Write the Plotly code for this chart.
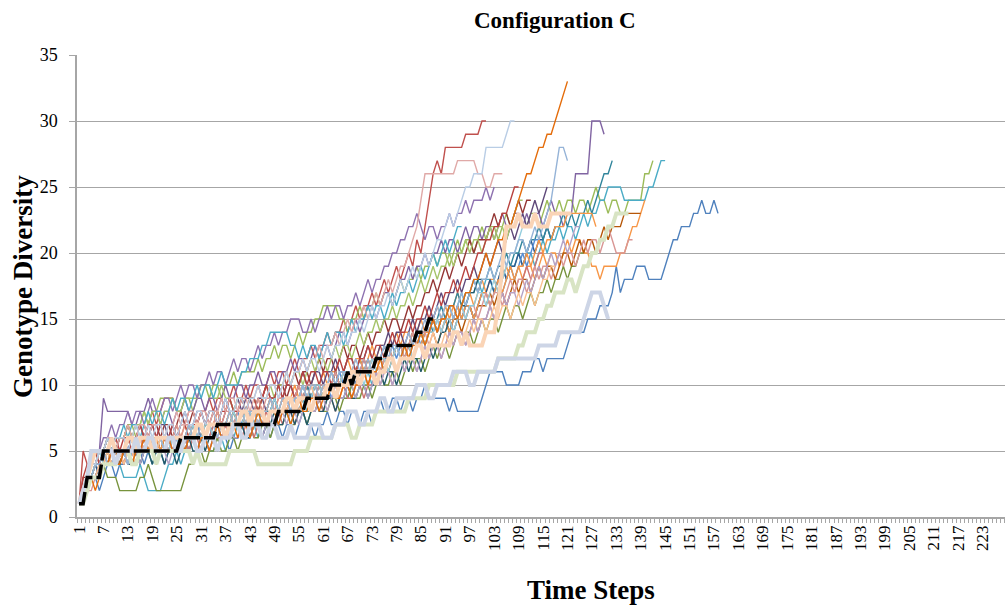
import plotly.graph_objects as go

# ---------------- data ----------------
x_tick_labels = [1, 7, 13, 19, 25, 31, 37, 43, 49, 55, 61, 67, 73, 79, 85, 91, 97, 103, 109,
                 115, 121, 127, 133, 139, 145, 151, 157, 163, 169, 175, 181, 187, 193, 199,
                 205, 211, 217, 223]
y_ticks = [0, 5, 10, 15, 20, 25, 30, 35]

run_blue = [1,2,2,3,3,2,3,4,4,3, 4,4,5,4,5,5,4,5,6,5, 5,4,5,5,6,6,5,6,6,5, 6,6,5,6,7,6,6,5,6,6,
            7,6,6,7,7,6,7,6,7,7, 6,7,7,6,7,8,7,7,6,7, 7,8,7,7,8,8,7,8,8,7, 8,8,7,8,9,8,8,9,9,8,
            9,9,8,9,9,10,9,9,9,9, 9,8,9,8,8,8,8,8,8,9, 10,11,11,11,11,10,10,10,10,11,
            11,11,12,12,11,12,12,12,12,12, 13,14,14,14,14,15,15,15,16,16,
            16,17,19,17,18,18,18,19,19,19, 18,18,18,18,19,20,21,21,22,22, 22,23,23,24,23,23,24,23]
run_red = [1,5,4,4,5,4,5,6,6,5, 6,6,7,6,7,7,6,7,8,7, 8,9,9,9,8,8,7,8,8,7, 8,8,9,8,9,9,8,9,10,9,
           9,10,9,10,10,9,10,11,10,11, 11,10,11,12,11,12,12,13,12,13, 13,14,13,14,14,15,14,15,16,15,
           16,16,17,16,17,18,17,18,19,18, 19,20,19,21,20,22,24,26,27,26, 28,28,28,28,28,29,29,29,29,30,30]
run_dkorange = [1,1,2,3,2,3,4,4,5,4, 4,5,5,4,5,5,6,5,5,4, 5,5,6,5,5,6,5,6,6,5, 6,6,5,6,7,6,6,7,7,6,
                7,7,6,7,8,7,7,8,8,7, 8,8,7,8,9,8,8,9,9,8, 9,9,10,9,9,10,10,9,10,10,
                11,10,11,11,12,11,12,12,11,12, 13,12,13,13,14,13,14,15,14,15, 15,16,16,15,16,17,17,18,18,19,
                20,19,20,21,21,22,22,23,24,25, 26,26,27,28,28,29,29,30,31,32,33]
run_purple = [1,2,3,3,4,5,9,8,8,8, 8,8,8,7,7,8,8,9,8,8, 7,8,8,7,8,8,9,8,8,9, 9,8,9,9,8,9,10,9,9,10,
              10,9,10,10,11,10,10,11,11,10, 11,11,12,11,12,12,11,12,13,12, 13,13,12,13,14,14,13,14,15,14,
              15,16,16,15,16,17,17,16,17,18, 18,19,18,19,19,20,19,20,20,21, 20,21,21,20,21,22,21,22,22,21,
              22,22,21,22,23,22,22,23,23,22, 23,22,23,23,22,23,24,23,23,22, 23,23,26,26,26,26,30,30,30,29]
run_ltblue = [1,2,3,4,4,5,5,6,5,6, 6,6,5,6,7,6,6,7,6,7, 7,6,7,7,6,7,8,7,7,8, 8,7,8,8,7,8,9,8,8,9,
              9,8,9,9,10,9,9,10,10,9, 10,11,10,11,11,12,11,12,12,11, 12,13,12,13,13,14,13,14,14,15,
              14,15,16,15,16,16,17,16,17,18, 17,18,19,18,19,20,19,20,21,21, 22,23,22,23,24,25,25,26,26,26,
              28,28,28,28,28,29,30,30]
run_aqua = [1,2,2,3,4,4,5,4,4,4, 4,3,3,3,3,4,3,2,2,2, 2,3,4,4,5,4,5,5,4,5, 5,6,5,5,6,6,5,6,6,7,
            6,6,7,7,6,7,7,8,7,7, 8,8,7,8,8,9,8,8,9,9, 8,9,10,9,10,10,9,10,11,10, 11,11,10,11,12,11,12,12,13,12,
            13,13,12,13,14,13,14,15,14,15, 15,16,15,16,17,16,17,17,18,17, 18,18,17,18,19,18,19,19,20,19,
            20,20,19,20,21,20,21,21,22,21, 22,22,21,22,23,22,23,23,24,24, 25,25,25,25,24,24,24,24,24,24,
            25,25,26,27,27]
run_green = [1,2,3,3,4,5,5,6,6,5, 6,6,7,7,6,7,8,7,8,8, 9,9,9,9,8,8,9,9,8,9, 10,10,9,10,10,9,10,10,11,10,
             11,11,11,11,12,11,12,12,13,12, 13,13,12,13,14,13,14,14,15,15, 16,16,16,16,15,15,14,15,15,16,
             15,16,16,17,16,17,17,16,17,18, 17,18,18,19,18,19,19,20,19,20, 20,19,20,21,20,21,21,20,21,22,
             21,22,22,21,22,23,22,22,23,22, 22,23,23,22,23,24,23,23,24,23, 24,24,23,24,24,23,24,25,24,24,
             23,24,24,23,23,24,24,24,24,26,26,27]
run_teal = [1,1,2,3,3,4,4,5,4,4, 5,5,4,5,5,4,5,5,4,5, 5,6,5,6,6,5,6,6,7,6, 6,7,7,6,7,7,6,7,8,7,
            7,8,7,8,8,7,8,8,9,8, 8,9,9,8,9,9,10,9,10,10, 9,10,10,11,10,11,11,10,11,12,
            11,11,12,12,11,12,13,12,13,13, 12,13,14,13,14,14,15,14,15,16, 15,16,16,17,16,17,17,18,17,18,
            18,19,18,19,19,20,19,20,20,21, 20,21,21,22,21,22,21,22,22,23, 22,23,22,23,23,24,23,24,25,26,26,27]
run_orange = [1,2,2,3,3,4,4,5,4,5, 5,4,5,5,6,5,5,6,5,6, 6,5,6,6,7,6,6,7,6,7, 7,6,7,7,8,7,7,8,7,8,
              8,7,8,8,9,8,8,9,8,9, 9,8,9,10,9,9,10,9,10,10, 11,10,11,11,10,11,12,11,12,12,
              11,12,13,12,13,13,12,13,14,13, 14,14,13,14,15,14,15,15,16,15, 16,15,16,17,16,17,17,16,17,18,
              17,18,18,17,18,19,18,18,19,18, 19,19,18,19,20,19,20,20,19,20, 21,20,21,21,20,20,19,19,18,19,
              19,19,19,20,20,21,22,22,23,24]
run_brown = [1,2,3,3,4,4,5,4,5,5, 4,5,5,4,5,6,5,5,6,6, 5,6,6,5,5,6,6,5,6,7, 6,7,7,6,7,7,6,7,8,7,
             7,8,8,7,8,8,7,8,9,8, 8,9,9,8,9,10,9,9,10,10, 9,10,10,11,10,10,11,11,10,11,
             11,12,11,11,12,12,11,12,13,12, 13,13,12,13,14,13,14,14,13,14, 15,14,15,15,14,15,16,15,16,16,
             16,17,16,17,17,16,17,18,17,18, 18,17,18,19,18,19,19,18,19,20, 20,19,20,21,20,21,21,20,21,22,
             21,22,22,22,23,23,23,23,23]
run_pink = [1,1,2,2,3,3,4,4,5,4, 5,5,4,5,5,6,5,6,6,5, 6,6,5,6,7,6,7,7,6,7, 7,6,7,7,8,7,8,8,7,8,
            8,7,8,8,9,8,9,9,8,9, 9,8,9,9,10,9,10,10,9,10, 10,9,10,11,10,11,11,10,11,11,
            12,11,12,12,11,12,13,12,13,13, 12,13,14,13,14,14,13,14,15,14, 15,15,14,15,16,15,16,16,15,16,
            17,16,17,17,16,17,18,17,18,18, 17,18,19,18,19,19,18,19,20,19, 20,20,19,20,21,20,21,21,20,21,
            22,21,20,20,20,21,21]
run_olive = [1,2,2,3,3,3,4,3,3,3, 2,2,2,2,2,3,3,4,3,2, 2,2,2,2,2,2,3,4,4,5, 5,4,5,5,6,5,5,6,6,5,
             6,6,7,6,6,7,7,6,7,7, 7,8,7,7,8,8,7,8,8,9, 8,8,9,9,8,9,9,10,9,9, 10,10,9,10,11,10,10,11,11,10,
             11,12,11,12,12,11,12,13,12,13, 13,12,13,14,13,14,14,13,14,15, 14,15,15,14,15,16,15,16,16,15,
             16,17,16,17,17,18,17,18,18,19, 18,19,19,20,20]
run_dkred = [1,3,3,4,4,5,5,6,5,6, 6,6,7,6,6,7,7,6,7,7, 6,7,7,6,7,8,7,7,8,7, 8,8,7,8,8,7,8,9,8,8,
             9,8,9,9,8,9,10,9,9,10, 10,9,10,11,10,11,11,10,11,12, 11,12,12,11,12,13,12,13,13,12,
             13,14,13,14,14,15,14,15,15,14, 15,16,15,16,16,17,17,18,17,18, 19,18,19,20,19,20,21,20,21,21,
             21,22,23,22,23,23,22,23,24,23,24,24]
run_dkblue = [1,2,2,3,4,3,4,4,5,5, 4,5,5,6,5,5,6,5,5,6, 5,5,6,6,5,6,6,7,6,6, 7,6,6,7,7,6,7,8,7,7,
              8,7,8,8,7,8,8,9,8,8, 9,8,9,9,8,9,10,9,9,10, 10,9,10,11,10,10,11,11,10,11,
              12,11,11,12,12,13,12,12,13,13, 12,13,14,13,13,14,14,15,14,15, 15,14,15,16,15,16,16,15,16,17,
              17,18,17,18,19,18,19,19,20,19, 20,21,20,21,21,22,21,22]
run_dkpurple = [1,2,3,4,4,5,5,6,5,5, 6,6,5,6,6,7,6,6,7,6, 7,7,6,7,6,7,8,7,7,8, 8,7,8,8,7,8,9,8,8,9,
                8,9,9,8,9,9,8,9,9,10, 9,10,10,9,10,11,10,10,11,11, 10,11,11,12,11,11,12,12,11,12,
                12,13,12,12,13,13,14,13,14,14, 13,14,15,14,15,15,16,15,16,17, 16,17,17,18,17,18,18,19,18,19,
                20,19,20,21,20,21,22,21,22,23, 22,23,24,23,24,25]
run_skyblue = [1,2,2,3,4,4,5,4,4,5, 5,5,4,5,6,5,5,6,5,6, 6,5,6,5,5,6,6,7,6,6, 7,6,7,7,6,7,7,8,7,7,
               8,7,8,8,7,8,8,9,8,8, 9,9,8,9,9,10,9,10,10,9, 10,10,11,10,11,11,10,11,12,11,
               11,12,11,12,12,13,12,13,13,12, 13,14,13,14,14,15,14,15,16,15, 16,16,15,16,17,16,17,18,17,18,
               18,19,18,19,20,19,20,20,21,21, 20,21,22,21,22,23,24,26,28,28,27]
run_ltaqua = [1,2,3,3,4,5,4,5,5,4, 5,5,4,5,6,5,5,6,5,5, 6,5,5,6,6,5,6,6,7,6, 6,7,7,6,7,7,6,7,8,7,
              7,8,8,7,8,8,7,8,9,8, 8,9,9,8,9,10,9,9,10,10, 9,10,11,10,10,11,11,10,11,11,
              10,11,12,11,12,12,11,12,13,12, 13,13,12,13,14,13,14,14,15,14, 15,15,14,15,16,15,16,16,17,17,
              16,17,18,17,18,19,20,20,21,22]
run_salmon = [1,2,3,4,4,5,5,6,6,5, 6,6,7,6,6,7,7,6,7,7, 7,6,7,7,8,7,7,8,8,7, 8,8,7,8,8,9,8,9,9,8,
              9,9,8,9,10,9,9,10,10,9, 10,11,10,11,11,12,11,12,12,13, 12,13,13,14,13,14,15,14,15,15,
              16,15,16,17,16,17,18,17,18,19, 19,20,21,22,24,26,26,26,26,26, 26,26,26,27,27,27,27,27,26,26,
              25,25,26,26,26]
run_ltorange = [1,1,2,3,3,4,4,5,4,5, 5,4,5,5,4,5,5,6,5,5, 6,5,6,6,5,6,6,7,6,6, 7,6,7,7,6,7,7,8,7,7,
                8,7,8,8,7,8,8,9,8,8, 9,8,9,9,8,9,9,10,9,9, 10,9,10,10,9,10,11,10,10,11,
                11,10,11,12,11,11,12,12,11,12, 13,12,12,13,13,12,13,14,13,13, 14,13,14,14,13,14,15,14,15,15,
                14,15,16,15,16,16,15,16,17,16, 17,17,16,17,18,18,19,19]
run_midblue = [1,2,3,3,4,4,5,5,4,5, 5,4,5,5,4,5,6,5,5,6, 6,5,6,5,5,6,6,5,6,7, 6,6,7,6,7,7,6,7,7,8,
               7,7,8,7,8,8,7,8,9,8, 8,9,8,9,9,10,9,9,10,9, 10,10,9,10,11,10,11,11,10,11,
               11,10,11,12,11,12,12,13,12,13, 13,12,13,14,13,14,14,15,14,15, 15,14,15,16,15,16,16,15,16,17,
               17,16,17,18,17,18,19,18,19,20,19,20,21,21]
run_dkteal = [1,2,2,3,3,4,4,4,5,4, 4,5,4,4,5,4,5,5,4,5, 5,4,5,5,4,5,5,6,5,5, 6,5,6,6,5,6,6,7,6,6,
              7,6,6,7,7,6,7,7,8,7, 7,8,8,7,8,8,7,8,9,8, 8,9,9,8,9,9,10,9,9,10,
              10,9,10,10,11,10,11,11,10,11, 12,11,12,12,11,12,13,12,13,14, 14,15,14,15,16,16,17,17,18,18]
run_aqua2 = [1,2,3,4,4,5,5,6,5,6, 6,7,6,7,7,6,7,8,7,8, 8,7,8,9,8,9,9,8,9,10, 9,10,10,9,10,11,10,10,10,10,
             11,11,12,12,12,13,13,14,14,14, 14,14,13,13,12,13,12,13,13,12, 13,14,13,14,14,13,14,15,14,15,
             15,16,15,16,16,15,16,17,16,17, 17,18,17,18,19,18,19,20,19,20, 21,20,21,22,22]
run_green2 = [1,2,3,3,4,5,5,6,5,6, 6,6,7,6,7,7,8,7,8,8, 7,8,8,9,8,8,9,9,9,9, 10,10,10,9,9,10,9,9,8,9,
              9,8,9,9,8,9,9,10,9,10, 10,11,10,11,11,10,11,12,11,12, 12,11,12,13,12,13,13,12,13,14,
              13,14,14,15,14,15,15,16,15,16, 16,17,16,17,18,17,18,19,18,19, 19,20,19,20,20,21,20,21,21,20,
              21,22,21,22,22,21,22,23,24,24]
run_purple2 = [1,2,3,4,4,5,6,6,7,6, 7,7,8,7,8,8,7,8,9,8, 8,9,9,8,9,10,9,10,10,9, 10,10,11,10,11,11,10,11,12,11,
               12,12,11,12,13,12,13,13,14,13, 14,14,15,15,15,14,14,15,14,15, 15,16,15,16,16,15,16,16,17,16,
               17,18,17,18,18,19,19,20,20,21, 21,22,22,23,22,21,22,22,21,22, 22,23,22,23,23,24,23,24,24,24,25,24,25]
run_rosy = [1,2,2,3,3,4,5,4,4,5, 5,4,5,5,4,5,6,5,5,6, 5,5,6,5,5,6,6,5,6,6, 5,6,6,7,6,6,7,6,7,7,
            6,7,7,6,7,7,8,7,7,8, 7,8,8,7,8,8,9,8,8,9, 8,9,9,8,9,10,9,9,10,10,
            9,10,10,11,10,11,11,10,11,12, 11,12,12,11,12,13,12,13,13,12, 13,14,13,14,14,13,14,15,14,15,
            15,16,15,16,17,16,17,17,18,18,19,18,19,20,20]
run_orange2 = [1,2,3,3,4,4,5,5,4,5, 5,5,6,5,5,6,6,5,6,6, 5,6,6,6,5,6,7,6,6,7, 7,6,7,7,8,7,7,8,7,7,
               8,7,8,8,7,8,8,9,8,8, 9,8,9,9,10,9,9,10,10,9, 10,10,11,10,10,11,11,10,11,12,
               11,11,12,12,11,12,13,12,13,13, 12,13,14,13,13,14,14,15,14,15, 15,14,15,16,15,16,16,15,16,17,
               17,16,17,18,17,18,19,18,19,19, 20,19,20,21,20,21,21,22,22,22, 23,23,23,23,23,23,23,22]
run_red2 = [1,3,4,4,5,4,5,5,5,6, 5,6,6,5,6,7,6,7,7,6, 7,6,6,7,6,7,7,6,7,7, 8,7,8,8,7,8,8,9,8,8,
            9,8,9,9,8,9,10,9,9,10, 9,10,10,9,10,11,10,11,11,10, 11,11,10,11,12,11,12,12,11,12,
            12,13,12,13,13,12,13,14,13,14, 14,15,14,15,15,16,15,16,17,16, 17,17,18,17,18,19,18,19,20,20,
            21,21,22,22,23,23,24,25,25]
run_lavender = [1,2,2,3,3,4,4,5,5,4, 5,5,4,5,5,4,5,6,5,5, 5,5,4,5,6,5,5,6,6,5, 6,6,5,6,7,6,6,7,6,6,
                7,7,6,7,7,6,7,8,7,7, 8,7,8,8,7,8,9,8,8,9, 9,8,9,10,9,9,10,10,9,10,
                10,9,10,11,10,11,11,10,11,12, 11,12,12,11,12,13,12,13,13,12, 13,14,13,14,14,13,14,15,14,15,
                15,16,15,16,17,16,17,17,16,17, 18,17,18,19,18,19,20,19,20,21,20,21,22,22]
# thick pale runs
run_palegreen = [1,1,2,3,3,3,4,4,4,4, 5,5,5,4,4,5,5,5,5,4, 5,5,5,5,5,5,5,5,4,5, 4,4,4,4,4,4,4,5,5,5,
                 5,5,5,5,4,4,4,4,4,4, 4,4,4,5,5,5,5,6,6,6, 6,6,6,7,7,7,7,6,6,7, 7,7,7,8,8,8,8,8,8,8,
                 8,9,9,9,9,9,10,10,10,10, 10,10,10,11,11,11,11,11,11,11, 11,11,11,12,12,12,12,12,13,13,
                 14,14,14,15,15,16,16,17,17,17, 18,18,17,18,19,19,20,20,21,21, 22,22,23,23,23,23]
run_palegray = [1,2,3,5,5,5,5,5,5,4, 5,5,5,5,6,5,5,6,6,5, 5,5,6,6,5,5,6,6,6,5, 5,6,6,6,5,6,6,6,7,7,
                6,6,7,7,7,6,6,7,7,6, 6,6,7,6,6,6,6,7,7,7, 6,6,6,7,7,7,8,8,8,7, 7,8,8,8,9,9,8,8,9,9,
                9,9,9,10,10,10,9,9,10,10, 10,10,11,11,11,11,10,10,11,11, 11,11,11,12,12,12,12,12,12,12,
                12,12,12,13,13,13,13,13,14,14, 14,14,14,14,15,16,17,17,17,16,15]
run_palepeach = [1,2,3,4,5,5,5,5,6,5, 5,5,6,6,5,6,6,6,5,6, 6,6,6,6,6,6,6,6,6,7, 7,6,7,7,7,7,6,7,7,7,
                 8,8,7,8,8,8,7,8,8,8, 8,9,9,8,9,9,9,8,9,9, 9,10,10,9,10,10,10,11,11,10, 11,11,11,10,11,11,12,12,11,12,
                 12,12,12,13,13,12,13,13,13,13, 13,13,14,14,13,14,13,13,13,13, 14,14,14,16,19,22,22,22,23,22,
                 22,22,23,22,22,22,23,23,23,23,23,23]
run_median = [1,1, 3,3,3,3] + [5]*19 + [6]*9 + [7]*15 + [8]*7 + [9]*6 + [10]*4 + [11, 10] + [11]*5 + \
             [12]*3 + [13]*7 + [14]*3 + [15]*2

thin_runs = [
    (run_blue, "#4F81BD"), (run_red, "#C0504D"), (run_green, "#9BBB59"), (run_purple, "#8064A2"),
    (run_aqua, "#4BACC6"), (run_orange, "#F79646"), (run_dkblue, "#2C5A8F"), (run_dkred, "#943634"),
    (run_olive, "#77933C"), (run_dkpurple, "#5F497A"), (run_teal, "#31859C"), (run_brown, "#B65708"),
    (run_midblue, "#558ED5"), (run_rosy, "#CD7371"), (run_green2, "#A6C46A"), (run_purple2, "#8E72B0"),
    (run_aqua2, "#4BACC6"), (run_orange2, "#F79646"), (run_dkteal, "#215968"), (run_red2, "#B8423F"),
    (run_pink, "#D99694"), (run_lavender, "#B3A2C7"), (run_ltaqua, "#93CDDD"), (run_ltorange, "#FAC090"),
    (run_salmon, "#E0A9A7"), (run_skyblue, "#95B3D7"), (run_ltblue, "#B9CDE5"), (run_dkorange, "#E46C0A"),
]
thick_runs = [
    (run_palepeach, "#FAD4B6"), (run_palegreen, "#D8E4C4"), (run_palegray, "#CDD5E6"),
]

# ---------------- figure ----------------
fig = go.Figure()
for vals, col in thin_runs:
    fig.add_trace(go.Scatter(x=list(range(1, len(vals) + 1)), y=vals, mode="lines",
                             line=dict(color=col, width=1.4), hoverinfo="skip"))
for vals, col in thick_runs:
    fig.add_trace(go.Scatter(x=list(range(1, len(vals) + 1)), y=vals, mode="lines",
                             line=dict(color=col, width=4), hoverinfo="skip"))
fig.add_trace(go.Scatter(x=list(range(1, len(run_median) + 1)), y=run_median, mode="lines",
                         line=dict(color="#000000", width=3.5, dash="16px,4px"), hoverinfo="skip"))

serif = "Liberation Serif, Times New Roman, serif"
L, T, B = 77, 55, 517
PW, PH = 1005 - L, B - T


def px(xp):
    return (xp - L) / PW


def py(yp):
    return (B - yp) / PH


fig.update_layout(
    width=1005, height=605,
    margin=dict(l=L, r=0, t=T, b=605 - B, pad=0),
    paper_bgcolor="white", plot_bgcolor="white",
    showlegend=False,
    font=dict(family=serif, color="#000000"),
    annotations=[
        dict(text="<b>Configuration C</b>", x=px(555), y=py(20), xref="paper", yref="paper",
             showarrow=False, font=dict(size=23, family=serif), xanchor="center", yanchor="middle"),
        dict(text="<b>Genotype Diversity</b>", x=px(23), y=py(287), xref="paper", yref="paper",
             showarrow=False, font=dict(size=27, family=serif), textangle=-90,
             xanchor="center", yanchor="middle"),
        dict(text="<b>Time Steps</b>", x=px(591), y=py(590), xref="paper", yref="paper",
             showarrow=False, font=dict(size=27, family=serif), xanchor="center", yanchor="middle"),
    ],
)
fig.update_xaxes(
    range=[0.5, 0.5 + PW / 4.07], tickmode="array", tickvals=x_tick_labels,
    ticktext=[str(v) for v in x_tick_labels], tickangle=-90,
    tickfont=dict(size=17, family=serif), ticks="", showgrid=False, zeroline=False,
    showline=True, linecolor="#A6A6A6", linewidth=1.5,
    minor=dict(ticks="outside", tick0=0.5, dtick=1, ticklen=4, tickcolor="#A6A6A6", tickwidth=1,
               showgrid=False),
)
fig.update_yaxes(
    range=[0, 35], tickmode="array", tickvals=y_ticks, ticktext=[str(v) for v in y_ticks],
    tickfont=dict(size=18, family=serif), ticks="outside", ticklen=6, tickcolor="#A6A6A6",
    showgrid=True, gridcolor="#A6A6A6", gridwidth=1.2, zeroline=False,
    showline=True, linecolor="#A6A6A6", linewidth=1.5, ticklabelstandoff=8,
)

fig.write_html("out.html")
